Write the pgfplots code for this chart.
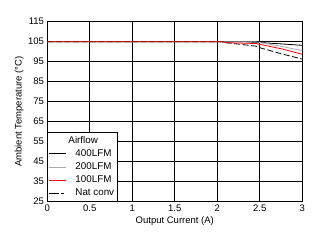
\documentclass[border=0pt]{standalone}
\usepackage{pgfplots}
\pgfplotsset{compat=1.18}
\usepackage{fontspec}
\setmainfont{Liberation Sans}
\definecolor{lgray}{RGB}{170,170,170}
\begin{document}
\fontsize{9.5}{11}\selectfont
\begin{tikzpicture}
\useasboundingbox (0,0) rectangle (319pt,243pt);
\begin{axis}[
  at={(47.3pt,41.3pt)}, anchor=south west,
  scale only axis, width=255pt, height=180pt,
  xmin=0, xmax=3, ymin=25, ymax=115,
  xtick={0,0.5,...,3}, ytick={25,35,...,115},
  xticklabels={0,0.5,1,1.5,2,2.5,3},
  grid=major, major grid style={black, line width=0.6pt},
  axis line style={black, line width=0.8pt},
  major tick length=0pt,
  tick label style={font=\fontsize{9.5}{11}\selectfont},
  label style={font=\fontsize{9.5}{11}\selectfont},
  /pgf/number format/assume math mode=true,
  xlabel={Output Current (A)}, ylabel={Ambient Temperature (\textdegree C)},
  xlabel style={yshift=2pt},
  ylabel style={yshift=-2pt},
  legend style={at={(0,0)}, anchor=south west, draw=black, line width=0.6pt, fill=white,
    font=\fontsize{9.8}{11}\selectfont, row sep=0.9pt, inner xsep=1pt, inner ysep=2pt},
  legend cell align=left,
  legend image post style={line width=0.8pt},
]
\addplot[black, line width=0.8pt, forget plot] coordinates {(0,105) (2.3,105) (2.5,104.6) (2.75,103.9) (3,103.2)};
\addplot[lgray, line width=0.8pt, forget plot] coordinates {(0,105) (2.45,105) (2.75,102.7) (3,100.5)};
\addplot[black, line width=0.8pt, dash pattern=on 6pt off 2.5pt, forget plot] coordinates {(0,105) (2.05,105) (2.1,104.5) (2.25,103.8) (2.45,102.8) (2.5,102) (2.75,99) (3,96.3)};
\addplot[red, line width=0.8pt, forget plot] coordinates {(0,105) (2.05,105) (2.1,104.5) (2.45,104.1) (2.75,101.5) (3,98.7)};
\addlegendimage{empty legend}
\addlegendentry[xshift=-7pt]{Airflow}
\addlegendimage{black, line width=0.8pt}
\addlegendentry{400LFM}
\addlegendimage{lgray, line width=0.8pt}
\addlegendentry{200LFM}
\addlegendimage{red, line width=0.8pt}
\addlegendentry{100LFM}
\addlegendimage{black, line width=0.8pt, dash pattern=on 9pt off 3pt on 3pt off 3pt}
\addlegendentry{Nat conv}
\end{axis}
\end{tikzpicture}
\end{document}
